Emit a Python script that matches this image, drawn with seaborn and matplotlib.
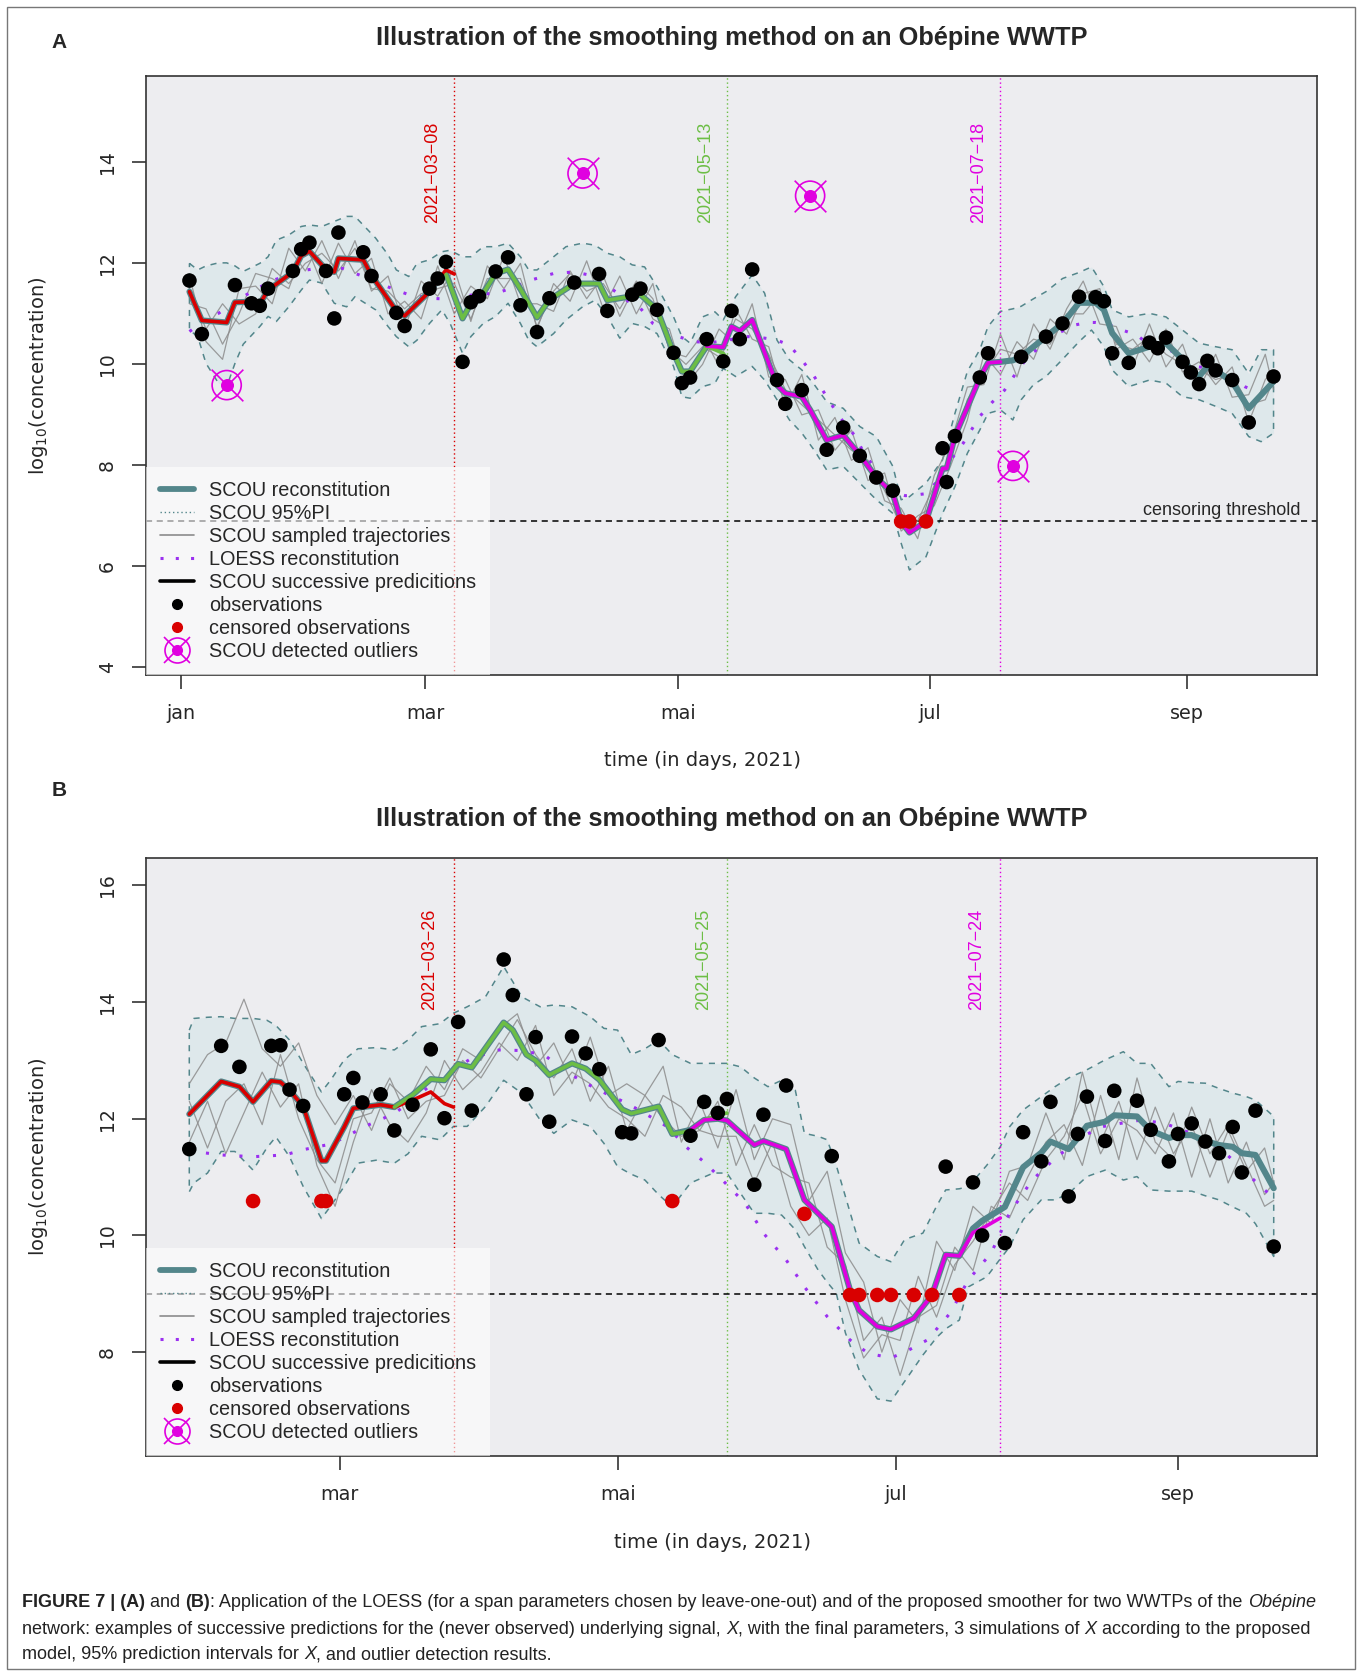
import matplotlib
matplotlib.use("Agg")
import matplotlib.pyplot as plt
import seaborn as sns
from matplotlib.legend_handler import HandlerTuple
from matplotlib.lines import Line2D
from matplotlib.patches import Rectangle

# ---------------- panel A (days since 2021-01-01, log10 concentration) ----------------
A_OBS_DAY = [2, 5, 13, 17, 19, 21, 27, 29, 31, 35, 37, 38, 44, 46, 52, 54, 60, 62, 64, 68,
             70, 72, 76, 79, 82, 86, 89, 95, 101, 103, 109, 111, 115, 119, 121, 123, 127, 131, 133, 135,
             138, 144, 146, 150, 156, 160, 164, 168, 172, 184, 185, 187, 193, 195, 203, 209, 213, 217, 221, 223,
             225, 229, 234, 236, 238, 242, 244, 246, 248, 250, 254, 258, 264]
A_OBS_VAL = [11.66, 10.60, 11.57, 11.21, 11.16, 11.50, 11.85, 12.28, 12.41, 11.85, 10.91, 12.61, 12.22, 11.75, 11.02, 10.76, 11.50, 11.70, 12.03, 10.05,
             11.23, 11.35, 11.84, 12.12, 11.17, 10.64, 11.31, 11.62, 11.79, 11.06, 11.38, 11.50, 11.08, 10.23, 9.63, 9.74, 10.50, 10.06, 11.06, 10.50,
             11.88, 9.69, 9.22, 9.49, 8.31, 8.75, 8.19, 7.76, 7.50, 8.34, 7.67, 8.58, 9.74, 10.22, 10.15, 10.55, 10.81, 11.34, 11.33, 11.25,
             10.22, 10.03, 10.43, 10.32, 10.53, 10.05, 9.84, 9.61, 10.07, 9.88, 9.69, 8.85, 9.76]
A_CENS_DAY = [174, 176, 180]
A_CENS_VAL = [6.89, 6.89, 6.89]
A_OUT_DAY = [11, 97, 152, 201]
A_OUT_VAL = [9.59, 13.78, 13.34, 7.99]

A_REC_DAY = [2, 5, 11, 13, 17, 19, 21, 27, 29, 31, 35, 37, 38, 44, 46, 52, 54, 60, 62, 64,
             68, 70, 72, 76, 79, 82, 86, 89, 95, 97, 101, 103, 109, 111, 115, 119, 121, 123, 127, 131,
             133, 135, 138, 144, 146, 150, 152, 156, 160, 164, 168, 172, 174, 176, 180, 184, 185, 187, 193, 195,
             198, 201, 203, 209, 213, 217, 221, 223, 225, 229, 234, 236, 238, 242, 244, 246, 248, 250, 254, 258, 264]
A_REC_VAL = [11.44, 10.87, 10.83, 11.23, 11.24, 11.20, 11.47, 11.83, 12.15, 12.24, 11.88, 11.83, 12.10, 12.07, 11.76, 11.06, 10.96, 11.44, 11.66, 11.80,
             10.91, 11.20, 11.28, 11.80, 11.88, 11.49, 10.93, 11.28, 11.60, 11.60, 11.60, 11.27, 11.35, 11.38, 11.09, 10.23, 9.86, 9.86, 10.36, 10.34,
             10.75, 10.66, 10.88, 9.59, 9.43, 9.36, 9.10, 8.50, 8.60, 8.21, 7.76, 7.45, 6.89, 6.67, 6.89, 7.94, 7.94, 8.58, 9.73, 10.03,
             10.05, 10.08, 10.15, 10.55, 10.81, 11.22, 11.22, 11.08, 10.62, 10.22, 10.35, 10.37, 10.42, 10.10, 9.89, 9.76, 9.96, 9.88, 9.66, 9.13, 9.66]

A_RED_DAY = [2, 5, 11, 13, 17, 19, 21, 27, 29, 31, 35, 37, 38, 44, 46, 52, 54, 60, 62, 64, 66]
A_RED_VAL = [11.44, 10.87, 10.83, 11.23, 11.24, 11.20, 11.47, 11.83, 12.15, 12.24, 11.88, 11.83, 12.10, 12.07, 11.76, 11.06, 10.96, 11.44, 11.66, 11.87, 11.79]
A_GREEN_DAY = [64, 68, 70, 72, 76, 79, 82, 86, 89, 95, 97, 101, 103, 109, 111, 115, 119, 121, 123, 127, 131, 132]
A_GREEN_VAL = [11.78, 10.91, 11.20, 11.28, 11.80, 11.88, 11.49, 10.93, 11.28, 11.60, 11.60, 11.60, 11.27, 11.35, 11.38, 11.09, 10.23, 9.86, 9.86, 10.36, 10.22, 10.10]
A_MAG_DAY = [127, 131, 133, 135, 138, 144, 146, 150, 152, 156, 160, 164, 168, 172, 174, 176, 180, 184, 185, 187, 193, 195, 198]
A_MAG_VAL = [10.36, 10.34, 10.75, 10.66, 10.88, 9.59, 9.43, 9.36, 9.10, 8.50, 8.60, 8.21, 7.76, 7.45, 6.89, 6.67, 6.89, 7.94, 7.94, 8.58, 9.73, 10.03, 10.05]

A_BAND_DAY = [2, 4, 6, 9, 11, 13, 15, 19, 21, 23, 26, 29, 31, 34, 37, 40, 42, 47, 50, 52,
              55, 57, 60, 63, 65, 68, 70, 73, 76, 79, 82, 84, 86, 90, 93, 97, 100, 103, 106, 109,
              112, 115, 119, 121, 123, 126, 129, 131, 134, 138, 141, 144, 147, 150, 153, 156, 160, 164, 168, 172,
              174, 176, 180, 184, 187, 190, 193, 195, 198, 201, 203, 206, 209, 213, 217, 220, 223, 225, 229, 234,
              238, 242, 246, 250, 254, 258, 261, 264]
A_BAND_UP = [12.00, 11.87, 11.95, 12.01, 12.01, 11.95, 11.84, 12.00, 12.13, 12.46, 12.56, 12.73, 12.76, 12.73, 12.83, 12.93, 12.93, 12.50, 12.17, 11.87,
             11.74, 12.00, 12.07, 12.23, 12.26, 12.13, 12.13, 12.33, 12.33, 12.40, 12.13, 11.87, 11.87, 12.13, 12.33, 12.40, 12.36, 12.20, 12.13, 11.97,
             11.93, 11.54, 10.94, 10.55, 10.42, 10.94, 11.04, 10.88, 11.34, 11.77, 11.41, 10.48, 10.09, 9.89, 9.60, 9.26, 9.13, 8.77, 8.57, 7.98,
             7.32, 7.38, 7.65, 8.11, 9.03, 9.86, 10.29, 10.75, 11.05, 11.10, 11.15, 11.30, 11.44, 11.70, 11.82, 11.93, 11.54, 11.08, 10.94, 11.01,
             10.94, 10.68, 10.42, 10.35, 10.29, 9.82, 10.29, 10.29]
A_BAND_LO = [10.68, 10.55, 10.02, 9.63, 9.56, 10.02, 10.40, 10.75, 10.95, 10.85, 11.14, 11.47, 11.67, 11.61, 11.21, 11.14, 11.34, 11.08, 10.75, 10.55,
             10.35, 10.48, 10.81, 11.08, 10.81, 10.22, 10.55, 10.81, 10.95, 11.21, 10.81, 10.48, 10.35, 10.61, 10.88, 11.14, 11.27, 10.95, 10.52, 10.81,
             10.75, 10.61, 9.96, 9.36, 9.33, 9.56, 9.63, 9.92, 9.76, 9.96, 9.69, 9.30, 8.90, 8.64, 8.30, 7.91, 7.98, 7.65, 7.32, 7.05,
             6.46, 5.93, 6.19, 7.05, 7.58, 8.24, 8.70, 9.03, 9.10, 8.90, 9.30, 9.60, 9.76, 10.10, 10.45, 10.68, 10.35, 9.89, 9.56, 9.69,
             9.63, 9.36, 9.30, 9.17, 9.03, 8.57, 8.47, 8.64]

A_LOESS_DAY = [2, 6, 9, 11, 15, 17, 22, 29, 34, 39, 44, 51, 55, 60, 65, 68, 72, 76, 80, 85,
               90, 95, 98, 101, 104, 108, 111, 114, 119, 124, 128, 132, 137, 141, 144, 147, 150, 153, 156, 159,
               163, 165, 168, 170, 173, 175, 178, 180, 183, 186, 189, 193, 196, 199, 202, 205, 208, 211, 216, 219,
               221, 224, 226, 231, 234, 238, 241, 245, 248, 251, 253, 255, 257, 260, 262, 264]
A_LOESS_VAL = [10.65, 10.89, 11.01, 11.12, 11.34, 11.44, 11.66, 11.85, 11.92, 11.90, 11.74, 11.50, 11.38, 11.31, 11.29, 11.34, 11.40, 11.40, 11.52, 11.68,
               11.80, 11.83, 11.78, 11.64, 11.50, 11.25, 11.11, 10.81, 10.58, 10.45, 10.43, 10.48, 10.55, 10.52, 10.48, 10.38, 10.09, 9.76, 9.36, 8.97,
               8.57, 8.24, 7.91, 7.65, 7.45, 7.40, 7.42, 7.44, 7.71, 8.11, 8.44, 8.97, 9.25, 9.49, 9.86, 10.19, 10.36, 10.58, 10.78, 10.83,
               10.83, 10.80, 10.72, 10.58, 10.38, 10.30, 10.22, 9.96, 9.93, 9.86, 9.76, 9.66, 9.56, 9.46, 9.36, 9.26]

A_TRAJ_DAY = list(range(2, 263, 4)) + [264]
A_TRAJ_1 = [11.75, 10.45, 10.10, 11.50, 11.55, 11.20, 12.30, 11.85, 12.45, 11.70,
            12.45, 11.45, 11.75, 10.70, 11.65, 11.35, 11.90, 10.85, 11.95, 11.50,
            12.00, 10.70, 11.60, 11.25, 12.05, 11.10, 11.75, 11.00, 11.60, 10.25,
            10.15, 10.60, 9.95, 11.10, 10.50, 10.35, 9.15, 9.80, 8.50, 8.95,
            8.10, 8.35, 7.30, 7.15, 6.55, 7.80, 8.45, 9.55, 9.60, 10.60,
            9.75, 10.80, 10.30, 11.10, 11.65, 10.80, 10.75, 9.95, 10.80, 9.95,
            10.40, 9.50, 10.20, 9.35, 9.40, 10.20, 9.50]
A_TRAJ_2 = [11.20, 11.10, 10.40, 11.00, 11.80, 11.70, 11.50, 12.40, 11.60, 12.40,
            11.80, 12.10, 11.00, 11.25, 10.90, 11.95, 11.00, 11.55, 11.30, 12.15,
            11.20, 11.20, 11.05, 11.85, 11.30, 11.75, 10.95, 11.60, 10.90, 10.70,
            9.60, 10.00, 10.70, 10.40, 11.20, 9.75, 9.70, 9.00, 9.10, 8.30,
            8.70, 7.70, 7.85, 6.70, 7.00, 7.20, 8.00, 8.90, 10.20, 9.80,
            10.45, 10.10, 10.90, 10.60, 11.40, 11.50, 10.30, 10.50, 10.05, 10.70,
            9.85, 10.05, 9.60, 9.95, 8.85, 9.70, 9.85]
A_TRAJ_3 = [11.50, 10.70, 11.20, 10.80, 11.00, 11.90, 11.60, 12.00, 12.20, 11.85,
            12.30, 11.50, 11.45, 11.10, 11.40, 11.50, 11.60, 10.90, 11.70, 11.70,
            11.70, 10.75, 11.45, 11.80, 11.45, 11.60, 11.10, 11.65, 11.30, 10.30,
            10.00, 10.35, 10.15, 10.90, 10.70, 10.20, 9.50, 9.20, 8.90, 8.60,
            8.30, 8.10, 7.50, 6.80, 6.90, 7.60, 8.20, 9.30, 9.80, 10.30,
            10.20, 10.50, 10.40, 11.00, 11.00, 11.40, 10.40, 10.30, 10.55, 10.20,
            10.00, 9.90, 9.70, 9.80, 9.20, 9.30, 9.70]

A_CUT_DAY = [66, 132, 198]
A_CUT_LABEL = ["2021\u221203\u221208", "2021\u221205\u221213", "2021\u221207\u221218"]
A_THRESHOLD = 6.9

# ---------------- panel B ----------------
B_OBS_DAY = [26, 33, 37, 44, 46, 48, 51, 60, 62, 64, 68, 71, 75, 79, 82, 85, 88, 95, 97, 100,
             102, 105, 110, 113, 116, 121, 123, 129, 136, 139, 142, 144, 150, 152, 157, 167, 192, 198, 200, 205,
             209, 213, 215, 219, 221, 223, 227, 229, 234, 237, 241, 243, 246, 249, 252, 255, 257, 260, 264]
B_OBS_VAL = [11.48, 13.25, 12.89, 13.25, 13.26, 12.50, 12.22, 12.42, 12.70, 12.28, 12.42, 11.80, 12.24, 13.19, 12.01, 13.66, 12.14, 14.73, 14.12, 12.42,
             13.40, 11.95, 13.41, 13.12, 12.85, 11.77, 11.75, 13.35, 11.71, 12.29, 12.10, 12.34, 10.87, 12.07, 12.57, 11.36, 11.18, 10.91, 10.00, 9.87,
             11.77, 11.27, 12.29, 10.67, 11.74, 12.38, 11.62, 12.48, 12.31, 11.81, 11.27, 11.74, 11.92, 11.61, 11.41, 11.86, 11.08, 12.14, 9.81]
B_CENS_DAY = [40, 55, 56, 132, 161, 171, 173, 177, 180, 185, 189, 195]
B_CENS_VAL = [10.59, 10.59, 10.59, 10.59, 10.37, 8.98, 8.98, 8.98, 8.98, 8.98, 8.98, 8.98]
B_OUT_DAY = []
B_OUT_VAL = []

B_REC_DAY = [26, 33, 37, 40, 44, 46, 48, 51, 55, 56, 60, 62, 64, 68, 71, 75, 79, 82, 85, 88,
             95, 97, 100, 102, 105, 110, 113, 116, 121, 123, 129, 132, 136, 139, 142, 144, 150, 152, 157, 161,
             167, 171, 173, 177, 180, 185, 189, 192, 195, 198, 200, 205, 209, 213, 215, 219, 221, 223, 227, 229,
             234, 237, 241, 243, 246, 249, 252, 255, 257, 260, 264]
B_REC_VAL = [12.08, 12.64, 12.55, 12.29, 12.65, 12.63, 12.49, 12.21, 11.28, 11.28, 11.86, 12.18, 12.20, 12.24, 12.20, 12.41, 12.68, 12.66, 12.94, 12.88,
             13.65, 13.52, 13.10, 13.00, 12.75, 12.95, 12.86, 12.67, 12.16, 12.09, 12.21, 11.74, 11.81, 11.98, 12.00, 11.97, 11.55, 11.62, 11.48, 10.61,
             10.15, 9.07, 8.72, 8.44, 8.39, 8.58, 8.98, 9.67, 9.65, 10.12, 10.25, 10.49, 11.17, 11.42, 11.61, 11.48, 11.67, 11.88, 11.95, 12.06,
             12.04, 11.80, 11.67, 11.72, 11.72, 11.62, 11.55, 11.52, 11.41, 11.38, 10.81]

B_RED_DAY = [26, 33, 37, 40, 44, 46, 48, 51, 55, 56, 60, 62, 64, 68, 71, 75, 79, 82, 84]
B_RED_VAL = [12.08, 12.64, 12.55, 12.29, 12.65, 12.63, 12.49, 12.21, 11.28, 11.28, 11.86, 12.18, 12.20, 12.24, 12.20, 12.32, 12.46, 12.26, 12.20]
B_GREEN_DAY = [71, 75, 79, 82, 85, 88, 95, 97, 100, 102, 105, 110, 113, 116, 121, 123, 129, 132, 136, 139, 142, 144]
B_GREEN_VAL = [12.20, 12.41, 12.68, 12.66, 12.94, 12.88, 13.65, 13.52, 13.10, 13.00, 12.75, 12.95, 12.86, 12.67, 12.16, 12.09, 12.21, 11.74, 11.79, 11.98, 12.06, 12.10]
B_MAG_DAY = [136, 139, 142, 144, 150, 152, 157, 161, 167, 171, 173, 177, 180, 185, 189, 192, 195, 198, 200, 204]
B_MAG_VAL = [11.81, 11.98, 12.00, 11.97, 11.55, 11.62, 11.48, 10.61, 10.15, 9.07, 8.72, 8.44, 8.39, 8.58, 8.98, 9.67, 9.65, 10.05, 10.12, 10.30]

B_BAND_DAY = [26, 27, 30, 33, 36, 40, 43, 45, 48, 51, 55, 57, 60, 63, 67, 71, 74, 77, 81, 84,
              87, 91, 95, 99, 103, 106, 110, 114, 117, 120, 123, 126, 129, 132, 136, 141, 144, 147, 150, 153,
              156, 159, 161, 164, 166, 168, 170, 173, 177, 180, 183, 187, 190, 192, 195, 197, 201, 204, 206, 209,
              213, 216, 219, 223, 227, 231, 234, 237, 241, 243, 246, 249, 252, 255, 258, 260, 264]
B_BAND_UP = [13.52, 13.72, 13.74, 13.75, 13.72, 13.72, 13.69, 13.60, 13.35, 12.95, 12.46, 12.66, 13.01, 13.20, 13.22, 13.18, 13.35, 13.58, 13.63, 13.81,
             13.92, 14.09, 14.61, 14.09, 13.92, 13.95, 13.92, 13.75, 13.55, 13.52, 13.10, 13.20, 13.35, 13.10, 12.95, 12.95, 12.95, 12.89, 12.70, 12.55,
             12.66, 12.49, 11.75, 11.70, 11.64, 11.20, 10.67, 9.87, 9.64, 9.55, 9.93, 10.04, 10.50, 10.78, 10.80, 10.84, 11.20, 11.52, 11.86, 12.15,
             12.38, 12.55, 12.70, 12.84, 13.01, 13.15, 12.95, 12.95, 12.55, 12.64, 12.62, 12.61, 12.52, 12.44, 12.38, 12.32, 12.04]
B_BAND_LO = [10.75, 10.90, 11.07, 11.44, 11.44, 11.12, 11.50, 11.69, 11.35, 10.84, 10.29, 10.50, 10.84, 11.24, 11.29, 11.24, 11.40, 11.70, 11.64, 11.87,
             11.87, 12.21, 12.66, 12.44, 11.98, 11.75, 11.98, 11.87, 11.58, 11.18, 11.05, 10.95, 10.70, 10.49, 10.90, 11.07, 11.07, 10.72, 10.38, 10.38,
             10.35, 10.10, 9.81, 9.41, 9.20, 9.01, 8.33, 7.70, 7.20, 7.16, 7.50, 7.95, 8.25, 8.40, 8.55, 9.12, 9.29, 9.60, 9.80, 10.27,
             10.61, 10.61, 10.72, 11.01, 11.12, 10.95, 11.01, 10.78, 10.76, 10.76, 10.76, 10.68, 10.61, 10.49, 10.38, 10.20, 9.64]

B_LOESS_DAY = [26, 33, 40, 47, 51, 56, 60, 64, 71, 75, 79, 84, 88, 94, 99, 104, 108, 113, 118, 122,
               126, 131, 135, 139, 143, 148, 152, 157, 161, 166, 171, 175, 180, 184, 188, 193, 197, 202, 206, 211,
               216, 222, 226, 231, 235, 240, 244, 249, 253, 258, 262, 264]
B_LOESS_VAL = [11.45, 11.38, 11.35, 11.38, 11.47, 11.55, 11.67, 11.85, 12.09, 12.32, 12.58, 12.84, 13.04, 13.18, 13.17, 13.09, 12.84, 12.61, 12.41, 12.27,
               12.09, 11.86, 11.52, 11.26, 10.95, 10.55, 10.04, 9.58, 9.12, 8.61, 8.21, 7.98, 7.90, 8.04, 8.21, 8.67, 9.24, 9.70, 10.38, 10.95,
               11.32, 11.69, 11.86, 11.93, 11.98, 11.92, 11.81, 11.64, 11.44, 11.07, 10.78, 10.65]

B_TRAJ_DAY = list(range(26, 263, 4)) + [264]
B_TRAJ_1 = [12.60, 13.10, 13.30, 14.05, 13.20, 12.90, 13.30, 12.40, 11.90, 12.40,
            11.80, 12.60, 12.30, 12.90, 12.50, 13.20, 13.00, 13.55, 13.80, 12.90,
            13.30, 12.60, 13.40, 12.40, 12.60, 12.40, 12.90, 11.60, 12.30, 11.50,
            12.50, 11.30, 12.00, 11.90, 10.60, 11.10, 9.70, 9.20, 8.00, 8.90,
            8.50, 9.90, 9.40, 10.50, 10.20, 11.10, 11.20, 12.10, 11.30, 12.80,
            11.60, 12.30, 11.30, 12.20, 11.40, 11.90, 11.00, 11.80, 11.10, 11.50, 10.90]
B_TRAJ_2 = [11.60, 12.30, 11.40, 12.10, 12.80, 12.20, 12.60, 11.20, 10.50, 11.60,
            12.50, 11.90, 11.60, 12.10, 13.00, 12.50, 12.80, 13.30, 13.00, 13.60,
            12.40, 12.80, 12.60, 12.20, 12.00, 11.70, 12.40, 12.20, 11.80, 12.30,
            11.20, 11.90, 11.20, 11.00, 10.90, 9.80, 9.50, 8.20, 8.60, 7.60,
            8.60, 8.80, 9.80, 9.40, 10.50, 10.30, 11.00, 11.60, 11.90, 11.20,
            12.40, 11.30, 12.70, 11.60, 11.30, 12.20, 11.40, 11.90, 11.20, 10.50, 10.60]
B_TRAJ_3 = [12.30, 11.50, 12.30, 12.60, 11.90, 13.10, 12.00, 11.30, 10.90, 12.00,
            12.10, 12.70, 12.00, 12.30, 12.40, 13.00, 12.70, 13.20, 13.70, 13.10,
            12.70, 13.20, 12.30, 12.90, 11.80, 12.40, 12.00, 11.70, 11.80, 11.70,
            11.70, 10.90, 11.60, 10.50, 10.00, 10.30, 8.90, 7.90, 8.30, 8.20,
            9.30, 8.60, 9.50, 9.90, 10.40, 10.90, 10.60, 11.30, 11.70, 12.40,
            11.40, 12.00, 11.80, 11.40, 12.10, 11.00, 12.00, 10.90, 11.60, 10.70, 10.90]

B_CUT_DAY = [84, 144, 204]
B_CUT_LABEL = ["2021\u221203\u221226", "2021\u221205\u221225", "2021\u221207\u221224"]
B_THRESHOLD = 9.0

MONTH_DAY = [0, 59, 120, 181, 243]
MONTH_LABEL = ["jan", "mar", "mai", "jul", "sep"]

TITLE = "Illustration of the smoothing method on an Ob\u00e9pine WWTP"

# ---------------- style ----------------
TEAL = "#53868B"
RED = "#D90000"
GREEN = "#6CBE45"
MAGENTA = "#E000E0"
PURPLE = "#9B30F0"
GREY = "#8C8C8C"
PANEL_BG = "#EDEDF0"
BAND_FILL = "#DEE8EB"
CUT_COLORS = [RED, GREEN, MAGENTA]
SANS = "Liberation Sans"

sns.set_theme(style="ticks")
plt.rcParams["font.family"] = ["DejaVu Sans"]
plt.rcParams["mathtext.fontset"] = "dejavusans"


def draw_panel(ax, d):
    ax.set_facecolor(PANEL_BG)
    bd, up, lo = d["band_day"], d["band_up"], d["band_lo"]
    ax.fill_between(bd, lo, up, color=BAND_FILL, lw=0, zorder=1)
    ax.plot(bd + bd[::-1] + bd[:1], up + lo[::-1] + up[:1], color=TEAL, lw=1.1,
            ls=(0, (4, 4)), zorder=2)

    for day, col in zip(d["cut_day"], CUT_COLORS):
        ax.axvline(day, color=col, lw=1.0, ls=(0, (1, 2)), zorder=2.5)
    ax.axhline(d["threshold"], color="black", lw=1.1, ls=(0, (4, 3)), zorder=2.5)

    for traj in d["trajs"]:
        sns.lineplot(x=d["traj_day"], y=traj, ax=ax, color=GREY, lw=0.9, alpha=0.85,
                     estimator=None, sort=False, zorder=3)
    sns.lineplot(x=d["loess_day"], y=d["loess_val"], ax=ax, color=PURPLE, lw=2.2,
                 linestyle=(0, (1, 4.5)), estimator=None, sort=False, zorder=4)
    sns.lineplot(x=d["rec_day"], y=d["rec_val"], ax=ax, color=TEAL, lw=4.4,
                 estimator=None, sort=False, zorder=5, solid_joinstyle="round")
    for (px, py), col in zip(d["preds"], CUT_COLORS):
        sns.lineplot(x=px, y=py, ax=ax, color=col, lw=2.6, estimator=None, sort=False,
                     zorder=6, solid_joinstyle="round")

    sns.scatterplot(x=d["obs_day"], y=d["obs_val"], ax=ax, color="black", s=110,
                    edgecolor="none", zorder=7, legend=False)
    sns.scatterplot(x=d["cens_day"], y=d["cens_val"], ax=ax, color=RED, s=110,
                    edgecolor="none", zorder=7, legend=False)
    if d["out_day"]:
        ax.scatter(d["out_day"], d["out_val"], s=440, facecolors="none",
                   edgecolors=MAGENTA, lw=1.2, zorder=8)
        ax.scatter(d["out_day"], d["out_val"], s=520, marker="x", color=MAGENTA,
                   lw=1.2, zorder=8)
        ax.scatter(d["out_day"], d["out_val"], s=70, color=MAGENTA, zorder=8)

    for day, lab, col in zip(d["cut_day"], d["cut_label"], CUT_COLORS):
        ax.text(day - 5.2, d["cut_label_y"], lab, rotation=90, ha="center", va="bottom",
                color=col, fontsize=13, family=SANS)

    ax.set_xlim(*d["xlim"])
    ax.set_ylim(*d["ylim"])
    ax.set_xticks(d["xticks"])
    ax.set_xticklabels(d["xticklabels"], fontsize=13.8)
    ax.set_yticks(d["yticks"])
    ax.set_yticklabels([str(v) for v in d["yticks"]], fontsize=13.5, rotation=90, va="center")
    ax.tick_params(direction="out", length=10, width=1.1, color="#222222", pad=11)
    for sp in ax.spines.values():
        sp.set_visible(True)
        sp.set_color("#333333")
        sp.set_linewidth(1.2)
    ax.set_xlabel("time (in days, 2021)", fontsize=14)
    ax.set_ylabel(r"$\mathregular{log_{10}}$(concentration)", fontsize=14)
    ax.yaxis.set_label_coords(-0.082, 0.5)
    ax.xaxis.label.set_va("center")
    ax.xaxis.set_label_coords(d["xlabel_x"], d["xlabel_y"])

    handles = [
        Line2D([], [], color=TEAL, lw=4.2),
        Line2D([], [], color=TEAL, lw=1.0, ls=(0, (1, 2))),
        Line2D([], [], color=GREY, lw=1.2),
        Line2D([], [], color=PURPLE, lw=2.2, ls=(0, (1, 4))),
        Line2D([], [], color="black", lw=2.6),
        Line2D([], [], ls="none", marker="o", color="black", ms=7),
        Line2D([], [], ls="none", marker="o", color=RED, ms=7),
        (Line2D([], [], ls="none", marker="o", mfc="none", mec=MAGENTA, ms=18, mew=1.2),
         Line2D([], [], ls="none", marker="x", color=MAGENTA, ms=19, mew=1.2),
         Line2D([], [], ls="none", marker="o", color=MAGENTA, ms=7)),
    ]
    labels = ["SCOU reconstitution", "SCOU 95%PI", "SCOU sampled trajectories",
              "LOESS reconstitution", "SCOU successive predicitions", "observations",
              "censored observations", "SCOU detected outliers"]
    leg = ax.legend(handles, labels, loc="lower left", bbox_to_anchor=(0, 0),
                    borderaxespad=0, frameon=True, fancybox=False, facecolor="white",
                    edgecolor="none", framealpha=0.6, prop={"family": SANS, "size": 14.3},
                    handlelength=1.7, handletextpad=0.75, labelspacing=0.2, borderpad=0.72,
                    handler_map={tuple: HandlerTuple(ndivide=1, pad=0)})
    leg.set_zorder(10)


panel_a = dict(
    obs_day=A_OBS_DAY, obs_val=A_OBS_VAL, cens_day=A_CENS_DAY, cens_val=A_CENS_VAL,
    out_day=A_OUT_DAY, out_val=A_OUT_VAL, rec_day=A_REC_DAY, rec_val=A_REC_VAL,
    preds=[(A_RED_DAY, A_RED_VAL), (A_GREEN_DAY, A_GREEN_VAL), (A_MAG_DAY, A_MAG_VAL)],
    band_day=A_BAND_DAY, band_up=A_BAND_UP, band_lo=A_BAND_LO,
    loess_day=A_LOESS_DAY, loess_val=A_LOESS_VAL,
    traj_day=A_TRAJ_DAY, trajs=[A_TRAJ_1, A_TRAJ_2, A_TRAJ_3],
    cut_day=A_CUT_DAY, cut_label=A_CUT_LABEL, cut_label_y=12.8, threshold=A_THRESHOLD,
    xlim=(-8.5, 274.5), ylim=(3.85, 15.71), xticks=MONTH_DAY, xticklabels=MONTH_LABEL,
    yticks=[4, 6, 8, 10, 12, 14], xlabel_x=0.475, xlabel_y=-0.142,
)
panel_b = dict(
    obs_day=B_OBS_DAY, obs_val=B_OBS_VAL, cens_day=B_CENS_DAY, cens_val=B_CENS_VAL,
    out_day=B_OUT_DAY, out_val=B_OUT_VAL, rec_day=B_REC_DAY, rec_val=B_REC_VAL,
    preds=[(B_RED_DAY, B_RED_VAL), (B_GREEN_DAY, B_GREEN_VAL), (B_MAG_DAY, B_MAG_VAL)],
    band_day=B_BAND_DAY, band_up=B_BAND_UP, band_lo=B_BAND_LO,
    loess_day=B_LOESS_DAY, loess_val=B_LOESS_VAL,
    traj_day=B_TRAJ_DAY, trajs=[B_TRAJ_1, B_TRAJ_2, B_TRAJ_3],
    cut_day=B_CUT_DAY, cut_label=B_CUT_LABEL, cut_label_y=13.87, threshold=B_THRESHOLD,
    xlim=(16.5, 273.5), ylim=(6.22, 16.47), xticks=MONTH_DAY[1:], xticklabels=MONTH_LABEL[1:],
    yticks=[8, 10, 12, 14, 16], xlabel_x=0.4835, xlabel_y=-0.1446,
)

W, H = 1363, 1675
fig = plt.figure(figsize=(W / 100, H / 100), dpi=100)
ax_a = fig.add_axes([146 / W, 1 - 675 / H, 1171 / W, 599 / H])
ax_b = fig.add_axes([146 / W, 1 - 1456 / H, 1171 / W, 598 / H])
draw_panel(ax_a, panel_a)
draw_panel(ax_b, panel_b)
ax_a.text(270.5, A_THRESHOLD + 0.03, "censoring threshold", ha="right", va="bottom",
          fontsize=13, family=SANS, zorder=9)

for ypos in (38.5, 819.3):
    fig.text(731.5 / W, 1 - ypos / H, TITLE, ha="center", va="center", fontsize=18.3,
             fontweight="bold", family=SANS)
for ypos, letter in [(42.7, "A"), (790.5, "B")]:
    fig.text(58.8 / W, 1 - ypos / H, letter, ha="center", va="center", fontsize=15,
             fontweight="bold", family=SANS)

fig.patches.append(Rectangle((7 / W, 1 - 1669 / H), 1348 / W, 1662 / H, transform=fig.transFigure,
                             fill=False, edgecolor="#777777", lw=1.0))

CAPTION = [
    [("FIGURE 7 | (A)", "bold", "normal"), (" and ", "normal", "normal"), ("(B)", "bold", "normal"),
     (": Application of the LOESS (for a span parameters chosen by leave-one-out) and of the proposed smoother for two WWTPs of the ",
      "normal", "normal"), ("Ob\u00e9pine", "normal", "italic")],
    [("network: examples of successive predictions for the (never observed) underlying signal, ", "normal", "normal"),
     ("X", "normal", "italic"), (", with the final parameters, 3 simulations of ", "normal", "normal"),
     ("X", "normal", "italic"), (" according to the proposed", "normal", "normal")],
    [("model, 95% prediction intervals for ", "normal", "normal"), ("X", "normal", "italic"),
     (", and outlier detection results.", "normal", "normal")],
]
renderer = fig.canvas.get_renderer()
for line, ypx in zip(CAPTION, [1602.3, 1629.0, 1654.7]):
    x = 22.4 / W
    for txt, weight, style in line:
        t = fig.text(x, 1 - ypx / H, txt, fontsize=13.0, fontweight=weight, fontstyle=style,
                     family=SANS, ha="left", va="center", color="#222222")
        x += t.get_window_extent(renderer=renderer).width / fig.bbox.width

fig.savefig("out.png", dpi=100)
